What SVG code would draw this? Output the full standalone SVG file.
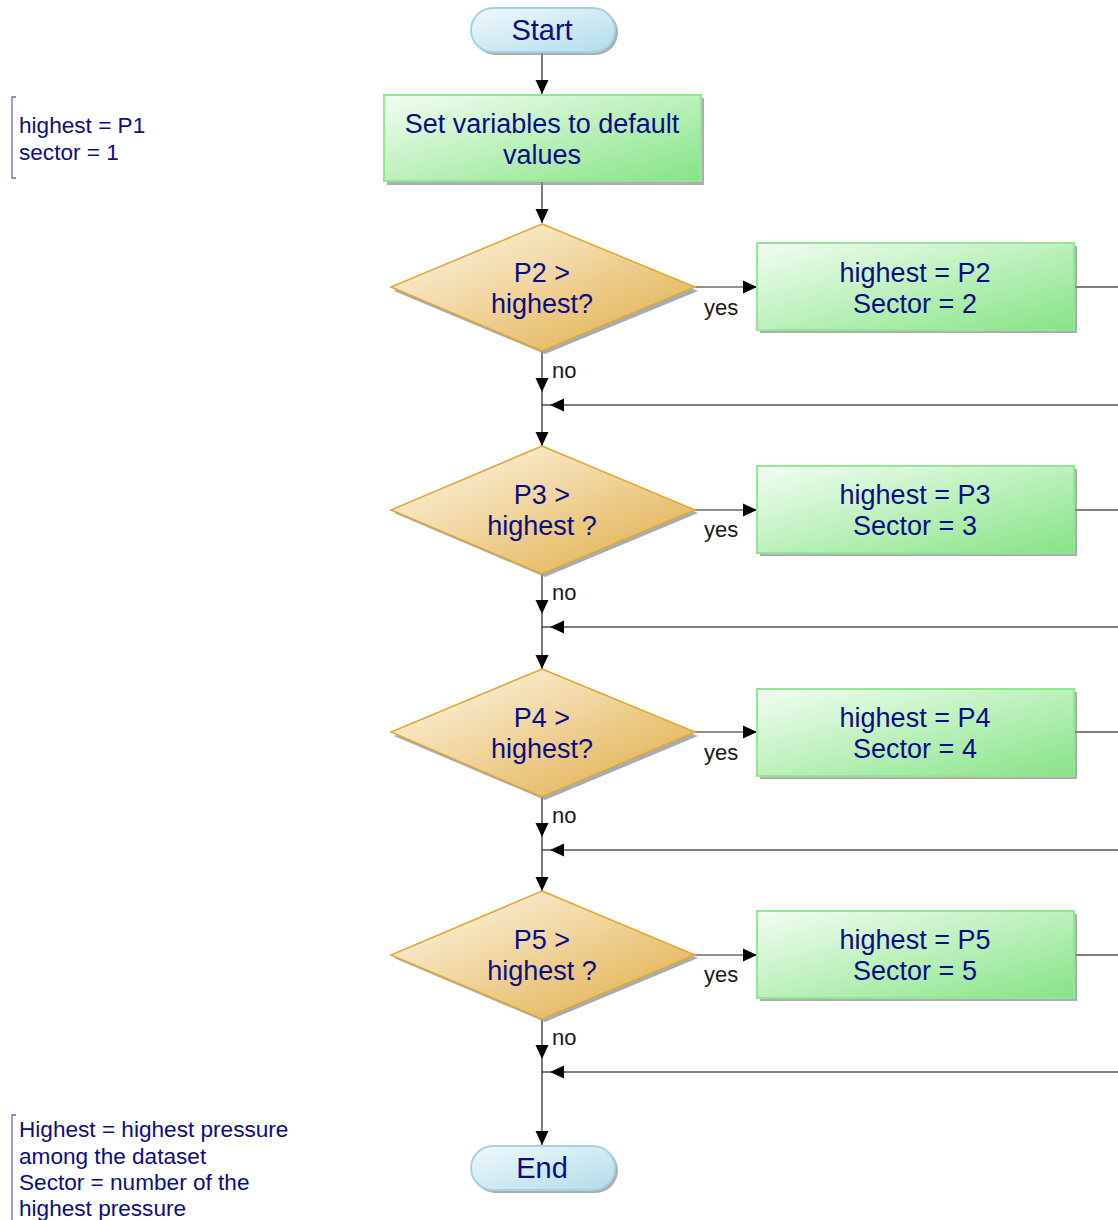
<svg xmlns="http://www.w3.org/2000/svg" width="1118" height="1220" viewBox="0 0 1118 1220">
<defs>
<linearGradient id="gGreen" x1="0" y1="0" x2="1" y2="1">
<stop offset="0" stop-color="#f2fdf2"/>
<stop offset="1" stop-color="#86e486"/>
</linearGradient>
<linearGradient id="gGold" x1="0" y1="0" x2="1" y2="1">
<stop offset="0.1" stop-color="#fcf2dc"/>
<stop offset="0.9" stop-color="#e2b252"/>
</linearGradient>
<linearGradient id="gBlue" x1="0" y1="0" x2="1" y2="1">
<stop offset="0" stop-color="#f0f9fc"/>
<stop offset="1" stop-color="#b2dcea"/>
</linearGradient>
<marker id="arr" markerWidth="14" markerHeight="14" refX="14" refY="7" orient="auto" markerUnits="userSpaceOnUse">
<path d="M0,0.5 L14,7 L0,13.5 z" fill="#000"/>
</marker>
<style>
.t{font-family:"Liberation Sans",Arial,sans-serif;fill:#0c0c84;text-anchor:middle}
.n{font-size:27px}
.term{font-size:29px}
.lbl{font-family:"Liberation Sans",Arial,sans-serif;font-size:22px;fill:#1a1a1a}
.ann{font-family:"Liberation Sans",Arial,sans-serif;font-size:22.6px;fill:#0c0c84}
.c{fill:none;stroke:#222;stroke-width:1.2}
.cg{fill:none;stroke:#555;stroke-width:1.4}
.box{fill:url(#gGreen);stroke:#92e892;stroke-width:2}
.dia{fill:url(#gGold);stroke:#e0a830;stroke-width:1.5}
.ter{fill:url(#gBlue);stroke:#a6d2e2;stroke-width:2}
.sh{fill:#8c8c8c;opacity:0.7}
.shd{fill:#8898aa;opacity:0.8}
.br{fill:none;stroke:#6a6aa8;stroke-width:1.3}
</style>
</defs>
<rect width="1118" height="1220" fill="#fff"/>

<g id="connectors">
<path class="c" d="M542,53 V94" marker-end="url(#arr)"/>
<path class="c" d="M542,182 V223" marker-end="url(#arr)"/>
<!-- row 1 -->
<path class="c" d="M695,287 H757" marker-end="url(#arr)"/>
<path class="cg" d="M1075,287 H1130"/>
<path class="c" d="M542,351 V392" marker-end="url(#arr)"/>
<path class="cg" d="M1130,405 H550" marker-end="url(#arr)"/>
<path class="c" d="M542,405 H550"/>
<path class="c" d="M542,392 V446" marker-end="url(#arr)"/>
<!-- row 2 -->
<path class="c" d="M695,510 H757" marker-end="url(#arr)"/>
<path class="cg" d="M1075,510 H1130"/>
<path class="c" d="M542,574 V614" marker-end="url(#arr)"/>
<path class="cg" d="M1130,627 H550" marker-end="url(#arr)"/>
<path class="c" d="M542,627 H550"/>
<path class="c" d="M542,614 V669" marker-end="url(#arr)"/>
<!-- row 3 -->
<path class="c" d="M695,732 H757" marker-end="url(#arr)"/>
<path class="cg" d="M1075,732 H1130"/>
<path class="c" d="M542,797 V837" marker-end="url(#arr)"/>
<path class="cg" d="M1130,850 H550" marker-end="url(#arr)"/>
<path class="c" d="M542,850 H550"/>
<path class="c" d="M542,837 V891" marker-end="url(#arr)"/>
<!-- row 4 -->
<path class="c" d="M695,955 H757" marker-end="url(#arr)"/>
<path class="cg" d="M1075,955 H1130"/>
<path class="c" d="M542,1019 V1059" marker-end="url(#arr)"/>
<path class="cg" d="M1130,1072 H550" marker-end="url(#arr)"/>
<path class="c" d="M542,1072 H550"/>
<path class="c" d="M542,1059 V1145" marker-end="url(#arr)"/>
<text class="lbl" x="704" y="315">yes</text>
<text class="lbl" x="552" y="378">no</text>
<text class="lbl" x="704" y="537">yes</text>
<text class="lbl" x="552" y="600">no</text>
<text class="lbl" x="704" y="760">yes</text>
<text class="lbl" x="552" y="823">no</text>
<text class="lbl" x="704" y="982">yes</text>
<text class="lbl" x="552" y="1045">no</text>
</g>

<g id="start">
<rect class="sh" x="473" y="10" width="145" height="45" rx="22.5"/>
<rect class="ter" x="471" y="8" width="144" height="44" rx="22"/>
<text class="t term" x="542" y="40">Start</text>
</g>

<g id="init">
<rect class="sh" x="387" y="98" width="317" height="87"/>
<rect class="box" x="384" y="95" width="317" height="86"/>
<text class="t n" x="542" y="133">Set variables to default</text>
<text class="t n" x="542" y="164">values</text>
</g>

<g id="dec2">
<polygon class="shd" points="545,227 698,291 545,354 394,291"/>
<polygon class="dia" points="542,224 695,287 542,351 391,287"/>
<text class="t n" x="542" y="282">P2 &gt;</text>
<text class="t n" x="542" y="313">highest?</text>
</g>
<g id="set2">
<rect class="sh" x="760" y="246" width="317" height="87"/>
<rect class="box" x="757" y="243" width="317" height="87"/>
<text class="t n" x="915" y="282">highest = P2</text>
<text class="t n" x="915" y="313">Sector = 2</text>
</g>

<g id="dec3">
<polygon class="shd" points="545,449 698,513 545,577 394,513"/>
<polygon class="dia" points="542,446 695,510 542,574 391,510"/>
<text class="t n" x="542" y="504">P3 &gt;</text>
<text class="t n" x="542" y="535">highest ?</text>
</g>
<g id="set3">
<rect class="sh" x="760" y="469" width="317" height="87"/>
<rect class="box" x="757" y="466" width="317" height="87"/>
<text class="t n" x="915" y="504">highest = P3</text>
<text class="t n" x="915" y="535">Sector = 3</text>
</g>

<g id="dec4">
<polygon class="shd" points="545,672 698,736 545,800 394,736"/>
<polygon class="dia" points="542,669 695,732 542,797 391,732"/>
<text class="t n" x="542" y="727">P4 &gt;</text>
<text class="t n" x="542" y="758">highest?</text>
</g>
<g id="set4">
<rect class="sh" x="760" y="692" width="317" height="87"/>
<rect class="box" x="757" y="689" width="317" height="87"/>
<text class="t n" x="915" y="727">highest = P4</text>
<text class="t n" x="915" y="758">Sector = 4</text>
</g>

<g id="dec5">
<polygon class="shd" points="545,894 698,958 545,1022 394,958"/>
<polygon class="dia" points="542,891 695,955 542,1019 391,955"/>
<text class="t n" x="542" y="949">P5 &gt;</text>
<text class="t n" x="542" y="980">highest ?</text>
</g>
<g id="set5">
<rect class="sh" x="760" y="914" width="317" height="87"/>
<rect class="box" x="757" y="911" width="317" height="87"/>
<text class="t n" x="915" y="949">highest = P5</text>
<text class="t n" x="915" y="980">Sector = 5</text>
</g>

<g id="end">
<rect class="sh" x="473" y="1148" width="145" height="45" rx="22.5"/>
<rect class="ter" x="471" y="1146" width="144" height="44" rx="22"/>
<text class="t term" x="542" y="1178">End</text>
</g>

<g id="note1">
<path class="br" d="M16,97 H12 V178 H16"/>
<text class="ann" x="19" y="133">highest = P1</text>
<text class="ann" x="19" y="160">sector = 1</text>
</g>

<g id="note2">
<path class="br" d="M16,1115 H12 V1222"/>
<text class="ann" x="19" y="1137">Highest = highest pressure</text>
<text class="ann" x="19" y="1164">among the dataset</text>
<text class="ann" x="19" y="1190">Sector = number of the</text>
<text class="ann" x="19" y="1216">highest pressure</text>
</g>
</svg>
